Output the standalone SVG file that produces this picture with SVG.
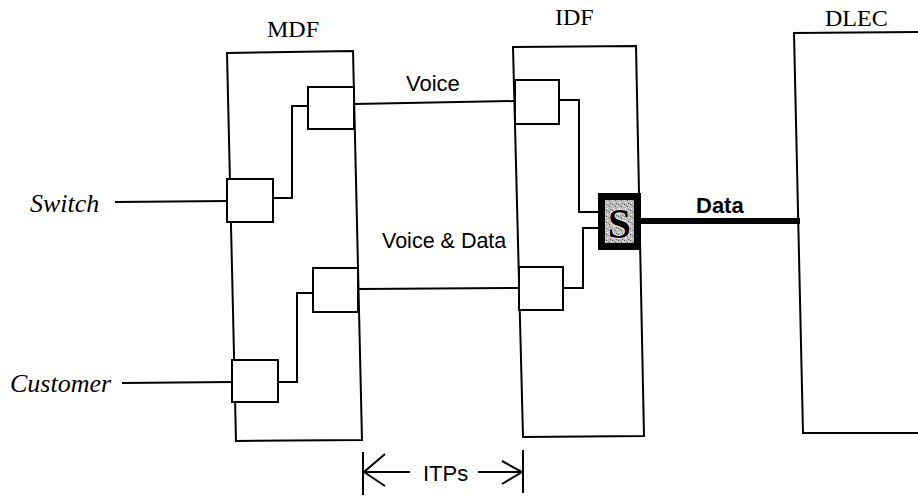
<svg xmlns="http://www.w3.org/2000/svg" width="918" height="496" viewBox="0 0 918 496">
<style>
.ln{fill:none;stroke:#000;stroke-width:2;stroke-linejoin:miter}
.bx{fill:#fff;stroke:#000;stroke-width:2}
.serif{font-family:"Liberation Serif","Times New Roman",serif;fill:#000}
.sans{font-family:"Liberation Sans",Arial,sans-serif;fill:#000}
</style>
<defs>
<pattern id="speck" width="6" height="6" patternUnits="userSpaceOnUse">
<rect width="6" height="6" fill="#bdbdbd"/>
<rect x="0" y="0" width="1" height="1" fill="#444"/>
<rect x="3" y="2" width="1" height="1" fill="#666"/>
<rect x="1" y="4" width="1" height="1" fill="#fff"/>
<rect x="4" y="5" width="1" height="1" fill="#555"/>
<rect x="5" y="1" width="1" height="1" fill="#eee"/>
<rect x="2" y="1" width="1" height="1" fill="#888"/>
</pattern>
</defs>
<rect width="918" height="496" fill="#fff"/>

<g id="connectors">
<line class="ln" x1="115" y1="202" x2="228" y2="201"/>
<line class="ln" x1="122" y1="383" x2="232" y2="382"/>
<polyline class="ln" points="273,198 292,198 292,106 308,106"/>
<polyline class="ln" points="278,382 297,382 297,293 313,293"/>
<line class="ln" x1="354" y1="104" x2="515" y2="101"/>
<line class="ln" x1="359" y1="289" x2="520" y2="288"/>
<polyline class="ln" points="559,100 579,100 579,212 598,212"/>
<polyline class="ln" points="563,288 583,288 583,228 598,228"/>
<line x1="640" y1="221" x2="800" y2="221" stroke="#000" stroke-width="6"/>
<g id="itps">
<line class="ln" x1="363" y1="452" x2="363" y2="495"/>
<line class="ln" x1="523" y1="450" x2="523" y2="493"/>
<polyline class="ln" points="385,454 364,472 385,486"/>
<line class="ln" x1="364" y1="472" x2="410" y2="472"/>
<polyline class="ln" points="502,461 522,472 502,484"/>
<line class="ln" x1="478" y1="472" x2="522" y2="472"/>
<text class="sans" x="423" y="481" font-size="22">ITPs</text>
</g>
</g>

<g id="mdf">
<polygon class="ln" points="227,53 353,51 362,440 236,441"/>
<text class="serif" x="267" y="37" font-size="24">MDF</text>
<rect class="bx" x="308" y="87" width="46" height="42"/>
<rect class="bx" x="227" y="179" width="46" height="43"/>
<rect class="bx" x="313" y="268" width="45" height="44"/>
<rect class="bx" x="232" y="360" width="46" height="42"/>
</g>

<g id="idf">
<polygon class="ln" points="513,47 636,46 644,436 523,437"/>
<text class="serif" x="555" y="25" font-size="24">IDF</text>
<rect class="bx" x="515" y="80" width="44" height="44"/>
<rect class="bx" x="519" y="267" width="44" height="43"/>
</g>

<g id="splitter">
<rect x="598" y="193" width="43" height="57" fill="#000"/>
<rect x="605" y="200" width="29" height="43" fill="url(#speck)"/>
<text class="serif" x="619.5" y="238" font-size="42" font-weight="bold" text-anchor="middle" stroke="#fff" stroke-width="1.5" paint-order="stroke">S</text>
</g>

<g id="dlec">
<polyline class="ln" points="918,32 794,33 803,433 918,433"/>
<text class="serif" x="825" y="26" font-size="24">DLEC</text>
</g>

<g id="labels">
<text class="serif" x="30" y="212" font-size="26" font-style="italic">Switch</text>
<text class="serif" x="10" y="392" font-size="26" font-style="italic">Customer</text>
<text class="sans" x="406" y="91" font-size="22">Voice</text>
<text class="sans" x="382" y="248" font-size="21.5">Voice &amp; Data</text>
<text class="sans" x="696" y="213" font-size="22" font-weight="bold">Data</text>
</g>
</svg>
